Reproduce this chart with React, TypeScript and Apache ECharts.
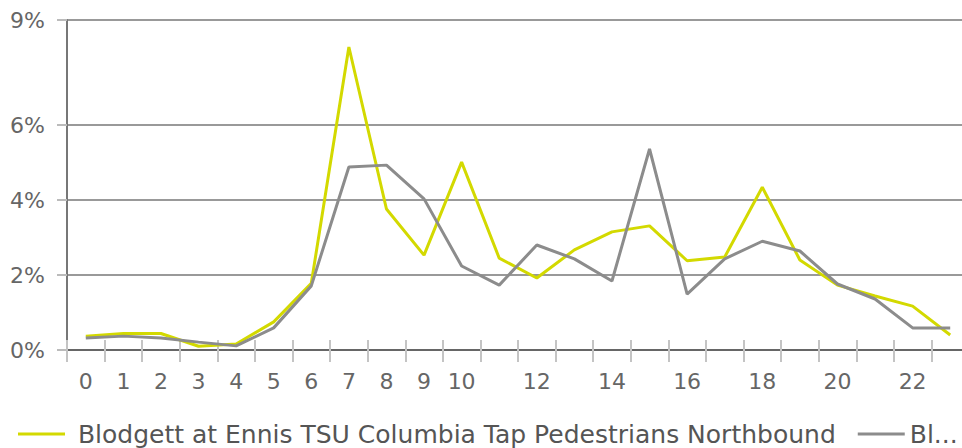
import React, { useEffect, useRef } from "react";
import * as echarts from "echarts";

const hours = ["0","1","2","3","4","5","6","7","8","9","10","11","12","13","14","15","16","17","18","19","20","21","22","23"];
const nameNorth = "Blodgett at Ennis TSU Columbia Tap Pedestrians Northbound";
const nameSouth = "Blodgett at Ennis TSU Columbia Tap Pedestrians Southbound";
const northValues = [0.37,0.44,0.44,0.1,0.16,0.75,1.78,8.08,3.76,2.53,5.01,2.45,1.92,2.67,3.15,3.31,2.38,2.48,4.34,2.4,1.73,1.44,1.17,0.4];
const southValues = [0.32,0.37,0.32,0.21,0.11,0.59,1.71,4.88,4.93,4.03,2.24,1.73,2.8,2.43,1.84,5.36,1.49,2.43,2.9,2.64,1.76,1.36,0.59,0.59];
const yTicks = [0, 2, 4, 6, 8.8];
const xLabelShown = ["0","1","2","3","4","5","6","7","8","9","10","12","14","16","18","20","22"];

const FONT = "DejaVu Sans";

export default function App() {
  const ref = useRef<HTMLDivElement>(null);
  useEffect(() => {
    if (!ref.current) return;
    const chart = echarts.init(ref.current, null, { renderer: "svg" });
    chart.setOption({
      animation: false,
      backgroundColor: "#ffffff",
      textStyle: { fontFamily: FONT },
      grid: { left: 67, top: 20, height: 330, width: 902, containLabel: false },
      legend: {
        left: 13,
        top: 416,
        icon: "rect",
        itemWidth: 47,
        itemHeight: 3,
        itemGap: 22,
        textStyle: { fontFamily: FONT, fontSize: 25, color: "#555", lineHeight: 26 },
        formatter: (n: string) => (n === nameNorth ? " " + n : n),
        data: [
          { name: nameNorth },
          { name: nameSouth, textStyle: { width: 60, overflow: "truncate", ellipsis: "..." } },
        ],
      },
      xAxis: [
        {
          type: "category",
          data: hours,
          boundaryGap: true,
          axisLine: { lineStyle: { color: "#666", width: 2 } },
          axisTick: { show: true, length: 12, lineStyle: { color: "#c4c4c4", width: 2 } },
          axisLabel: {
            interval: 0,
            margin: 20,
            fontSize: 22,
            color: "#666",
            fontFamily: FONT,
            formatter: (v: string) => (xLabelShown.includes(v) ? v : ""),
          },
          splitLine: { show: false },
        },
        {
          type: "category",
          data: hours,
          position: "bottom",
          boundaryGap: true,
          axisLine: { show: false },
          axisTick: { show: true, inside: true, length: 10, lineStyle: { color: "#c4c4c4", width: 2 } },
          axisLabel: { show: false },
          splitLine: { show: false },
        },
      ],
      yAxis: {
        type: "value",
        min: 0,
        max: 8.8,
        axisLine: { show: true, lineStyle: { color: "#777", width: 2 } },
        axisTick: { show: true, length: 10, customValues: yTicks, lineStyle: { color: "#bbb", width: 2 } },
        axisLabel: {
          customValues: yTicks,
          margin: 22,
          fontSize: 22,
          color: "#666",
          fontFamily: FONT,
          formatter: (v: number) => (v > 8 ? "9%" : Math.round(v) + "%"),
        },
        splitLine: { show: true, lineStyle: { color: "#999", width: 2 } },
      },
      series: [
        {
          name: nameNorth,
          type: "line",
          data: northValues,
          symbol: "none",
          lineStyle: { color: "#d3d900", width: 3 },
          itemStyle: { color: "#d3d900" },
        },
        {
          name: nameSouth,
          type: "line",
          data: southValues,
          symbol: "none",
          lineStyle: { color: "#8c8c8c", width: 3 },
          itemStyle: { color: "#8c8c8c" },
        },
      ],
    });
    return () => chart.dispose();
  }, []);
  return (
    <div style={{ position: "fixed", left: 0, top: 0, width: 962, height: 448, overflow: "hidden" }}>
      <div ref={ref} style={{ width: 1040, height: 448 }} />
    </div>
  );
}
